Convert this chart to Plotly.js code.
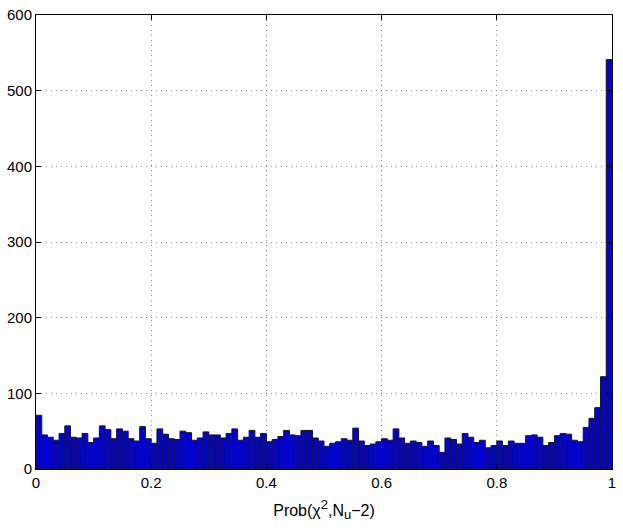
<!DOCTYPE html>
<html>
<head>
<meta charset="utf-8">
<script src="https://cdn.plot.ly/plotly-3.0.1.min.js"></script>
<style>html,body{margin:0;padding:0;background:#fff}#chart{width:623px;height:531px}</style>
</head>
<body>
<div id="chart"></div>
<script>
// 100 histogram bins of width 0.01 spanning [0, 1]
const binStart = 0.005;
const binWidth = 0.01;
const counts = [
  71, 45, 42, 38, 47, 57, 42, 41, 47, 35,
  41, 57, 52, 40, 53, 50, 40, 37, 56, 40,
  34, 53, 46, 40, 39, 50, 48, 38, 41, 49,
  45, 45, 41, 47, 53, 38, 42, 51, 42, 47,
  36, 39, 43, 51, 45, 44, 51, 51, 41, 37,
  30, 34, 36, 40, 38, 54, 37, 31, 33, 36,
  40, 38, 53, 41, 34, 37, 35, 30, 37, 31,
  22, 41, 39, 33, 47, 42, 35, 38, 28, 31,
  37, 31, 37, 34, 34, 44, 45, 42, 31, 35,
  44, 47, 46, 38, 36, 55, 67, 81, 122, 541
];
const xTickVals = [0, 0.2, 0.4, 0.6, 0.8, 1];
const xTickText = ['0', '0.2', '0.4', '0.6', '0.8', '1'];
const yTickVals = [0, 100, 200, 300, 400, 500, 600];

const trace = {
  type: 'bar',
  x0: binStart,
  dx: binWidth,
  y: counts,
  marker: {color: 'rgb(0,0,215)', line: {color: '#1a1a1a', width: 1}},
  hoverinfo: 'skip'
};

const axisCommon = {
  showline: true, linecolor: '#000', linewidth: 1, mirror: 'ticks',
  ticks: 'inside', ticklen: 5, tickcolor: '#000',
  showgrid: true, gridcolor: '#8a8a8a', griddash: '1px,4px', gridwidth: 1,
  zeroline: false,
  tickfont: {family: 'Liberation Sans, Arial, sans-serif', size: 15, color: '#000'}
};

const layout = {
  width: 623, height: 531,
  margin: {l: 36, r: 11, t: 15, b: 62},
  paper_bgcolor: '#fff', plot_bgcolor: '#fff',
  bargap: 0,
  showlegend: false,
  xaxis: Object.assign({}, axisCommon, {
    range: [0, 1], tickmode: 'array', tickvals: xTickVals, ticktext: xTickText,
    title: {text: 'Prob(χ<sup><span style="font-size:13px">2</span></sup>,N<sub><span style="font-size:13px">u</span></sub>−2)', standoff: 14,
      font: {family: 'Liberation Sans, Arial, sans-serif', size: 16, color: '#000'}}
  }),
  yaxis: Object.assign({}, axisCommon, {
    range: [0, 600], tickmode: 'array', tickvals: yTickVals
  })
};

Plotly.newPlot('chart', [trace], layout, {staticPlot: true, displayModeBar: false});
</script>
</body>
</html>
